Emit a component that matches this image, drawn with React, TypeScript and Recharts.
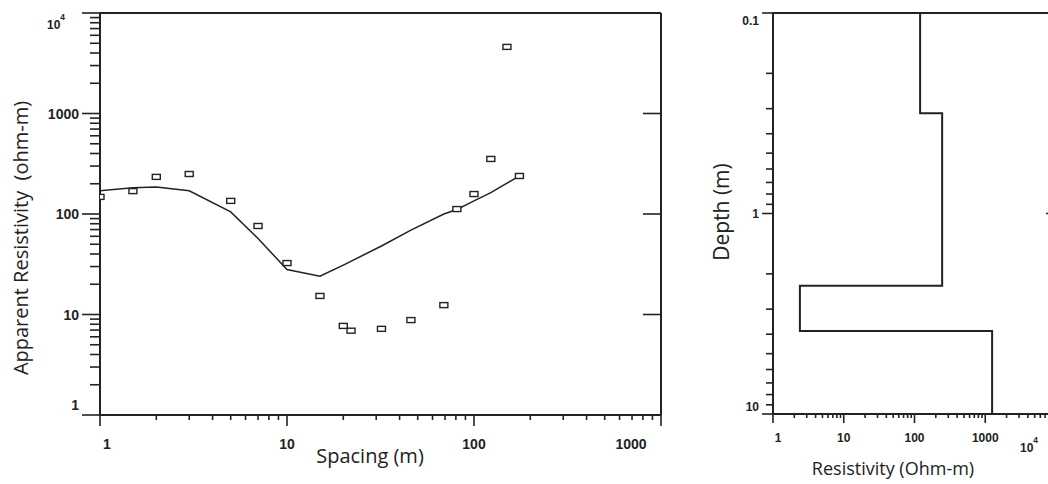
import React from 'react';
import { ComposedChart, Line, Scatter, XAxis, YAxis } from 'recharts';

// ---------- Left panel: apparent resistivity sounding curve ----------
const spacingObserved = [1, 1.5, 2, 3, 5, 7, 10, 15, 20, 22, 32, 46, 69, 81, 100, 123, 150, 175];
const rhoObserved = [148, 169, 234, 250, 135, 76, 32.5, 15.3, 7.7, 6.9, 7.2, 8.8, 12.4, 112, 158, 353, 4600, 239];
const spacingModel = [1, 1.5, 2, 3, 5, 7, 10, 15, 20, 32, 46, 69, 81, 100, 123, 175];
const rhoModel = [170, 182, 186, 170, 105, 57, 28, 24, 31, 48, 69, 100, 111, 135, 163, 240];

// ---------- Right panel: layered resistivity model ----------
const layerResistivity = [120, 246, 2.4, 1250];
const layerTopDepth = [0.1, 0.316, 2.29, 3.85];
const layerBottomDepth = [0.316, 2.29, 3.85, 10];

// ---------- Tick values / labels ----------
const spacingTickValues = [1, 10, 100, 1000];
const spacingTickLabels = ['1', '10', '100', '1000'];
const rhoTickValues = [1, 10, 100, 1000, 10000];
const rhoTickLabels = ['1', '10', '100', '1000', '10^4'];
const resTickValues = [1, 10, 100, 1000, 10000];
const resTickLabels = ['1', '10', '100', '1000', '10^4'];
const depthTickValues = [0.1, 1, 10];
const depthTickLabels = ['0.1', '1', '10'];

const observedData = spacingObserved.map((x, i) => ({ x, y: rhoObserved[i] }));
const modelData = spacingModel.map((x, i) => ({ x, y: rhoModel[i] }));
const stepData: { res: number; depth: number }[] = [];
layerResistivity.forEach((r, i) => {
  stepData.push({ res: r, depth: layerTopDepth[i] });
  stepData.push({ res: r, depth: layerBottomDepth[i] });
});

const withMinor = (majors: number[]) => {
  const out: number[] = [];
  majors.forEach((m, i) => {
    out.push(m);
    if (i < majors.length - 1) {
      for (let k = 2; k <= 9; k++) out.push(+(m * k).toPrecision(6));
    }
  });
  return out;
};

const INK = '#222';
const TICK_FONT = '"Liberation Sans", Arial, sans-serif';
const TITLE_FONT = '"Open Sans", "Noto Sans", sans-serif';

const Lbl = ({ text, x, y, anchor, size }: any) => {
  const [base, exp] = String(text).split('^');
  return (
    <text x={x} y={y} textAnchor={anchor} fontSize={size} fontWeight="bold" fontFamily={TICK_FONT} fill={INK}>
      {base}
      {exp ? (
        <tspan dy={-size * 0.75} fontSize={size * 0.7}>
          {exp}
        </tspan>
      ) : null}
    </text>
  );
};

// ----- left panel ticks -----
const LeftRhoTick = (props: any) => {
  const { x, y, payload } = props;
  const v = payload.value;
  const i = rhoTickValues.indexOf(v);
  const major = i >= 0;
  let label = null;
  if (major) {
    if (v === 10000) label = <Lbl text={rhoTickLabels[i]} x={x - 35} y={y + 16} anchor="end" size={12} />;
    else label = <Lbl text={rhoTickLabels[i]} x={x - 21} y={y + 5 + (v === 1 ? -10 : 0)} anchor="end" size={14} />;
  }
  return (
    <g>
      <line x1={x - (major ? 18 : 10)} x2={x} y1={y} y2={y} stroke={INK} strokeWidth={1.6} />
      {label}
    </g>
  );
};

const spacingLabelDx: Record<string, number> = { '1': 7, '1000': -30 };
const BottomSpacingTick = (props: any) => {
  const { x, y, payload } = props;
  const v = payload.value;
  const i = spacingTickValues.indexOf(v);
  const major = i >= 0;
  return (
    <g>
      <line x1={x} x2={x} y1={y} y2={y + (major ? 11 : 5)} stroke={INK} strokeWidth={1.6} />
      {major ? (
        <Lbl text={spacingTickLabels[i]} x={x + (spacingLabelDx[spacingTickLabels[i]] || 0)} y={y + 34} anchor="middle" size={14} />
      ) : null}
    </g>
  );
};

const InwardDownTick = (len: number) => (props: any) => {
  const { x, y } = props;
  return <line x1={x} x2={x} y1={y} y2={y + len} stroke={INK} strokeWidth={1.6} />;
};
const InwardLeftTick = (len: number) => (props: any) => {
  const { x, y } = props;
  return <line x1={x - len} x2={x} y1={y} y2={y} stroke={INK} strokeWidth={1.6} />;
};

// ----- right panel ticks -----
const depthLabelDy: Record<string, number> = { '0.1': 8, '10': -7 };
const LeftDepthTick = (props: any) => {
  const { x, y, payload } = props;
  const v = payload.value;
  const i = depthTickValues.indexOf(v);
  const major = i >= 0;
  return (
    <g>
      <line x1={x - (major ? 11 : 7)} x2={x} y1={y} y2={y} stroke={INK} strokeWidth={1.6} />
      {major ? (
        <Lbl text={depthTickLabels[i]} x={x - 14} y={y + 4 + (depthLabelDy[depthTickLabels[i]] || 0)} anchor="end" size={12} />
      ) : null}
    </g>
  );
};

const BottomResTick = (props: any) => {
  const { x, y, payload } = props;
  const v = payload.value;
  const i = resTickValues.indexOf(v);
  const major = i >= 0;
  let label = null;
  if (major) {
    if (v === 10000) label = <Lbl text={resTickLabels[i]} x={x - 36} y={y + 38} anchor="start" size={12} />;
    else label = <Lbl text={resTickLabels[i]} x={x + (v === 1 ? 5 : 0)} y={y + 28} anchor="middle" size={12} />;
  }
  return (
    <g>
      <line x1={x} x2={x} y1={y} y2={y + (major ? 9 : 4)} stroke={INK} strokeWidth={1.6} />
      {label}
    </g>
  );
};

const axisLine = { stroke: INK, strokeWidth: 2 };

const Box = (p: any) => (
  <rect x={p.cx - 4} y={p.cy - 2.5} width={8} height={5} fill="#fff" stroke={INK} strokeWidth={1.4} />
);

export default function App() {
  return (
    <div style={{ position: 'absolute', left: 0, top: 0, width: 1048, height: 484, overflow: 'hidden', background: '#fff' }}>
      <div style={{ position: 'absolute', left: 0, top: 0 }}>
        <ComposedChart width={700} height={484} margin={{ top: 3, left: 40, right: 19, bottom: 29 }}>
          <XAxis
            dataKey="x"
            type="number"
            scale="log"
            domain={[1, 1000]}
            allowDataOverflow
            ticks={withMinor(spacingTickValues)}
            interval={0}
            tickSize={0}
            tickMargin={0}
            tickLine={false}
            axisLine={axisLine}
            height={40}
            tick={BottomSpacingTick}
            label={() => (
              <text x={370} y={463} textAnchor="middle" fontSize={20} fontFamily={TITLE_FONT} fill={INK}>
                Spacing (m)
              </text>
            )}
          />
          <XAxis
            xAxisId="top"
            orientation="top"
            type="number"
            scale="log"
            domain={[1, 1000]}
            allowDataOverflow
            ticks={[10, 100]}
            interval={0}
            tickSize={0}
            tickMargin={0}
            tickLine={false}
            axisLine={axisLine}
            height={10}
            tick={InwardDownTick(11)}
          />
          <YAxis
            dataKey="y"
            type="number"
            scale="log"
            domain={[1, 10000]}
            allowDataOverflow
            ticks={withMinor(rhoTickValues)}
            interval={0}
            tickSize={0}
            tickMargin={0}
            tickLine={false}
            axisLine={axisLine}
            width={60}
            tick={LeftRhoTick}
            label={() => (
              <text
                x={28}
                y={238}
                transform="rotate(-90 28 238)"
                textAnchor="middle"
                fontSize={20}
                fontFamily={TITLE_FONT}
                fill={INK}
                style={{ whiteSpace: 'pre' }}
              >
                {'Apparent Resistivity  (ohm-m)'}
              </text>
            )}
          />
          <YAxis
            yAxisId="r"
            orientation="right"
            type="number"
            scale="log"
            domain={[1, 10000]}
            allowDataOverflow
            ticks={[10, 100, 1000]}
            interval={0}
            tickSize={0}
            tickMargin={0}
            tickLine={false}
            axisLine={axisLine}
            width={20}
            tick={InwardLeftTick(18)}
          />
          <Line data={modelData} dataKey="y" type="linear" dot={false} stroke={INK} strokeWidth={1.5} isAnimationActive={false} />
          <Scatter data={observedData} dataKey="y" shape={Box} isAnimationActive={false} />
        </ComposedChart>
      </div>
      <div style={{ position: 'absolute', left: 690, top: 0 }}>
        <ComposedChart width={420} height={484} margin={{ top: 3, left: 23, right: 34, bottom: 30 }}>
          <XAxis
            dataKey="res"
            type="number"
            scale="log"
            domain={[1, 10000]}
            allowDataOverflow
            ticks={withMinor(resTickValues)}
            interval={0}
            tickSize={0}
            tickMargin={0}
            tickLine={false}
            axisLine={axisLine}
            height={40}
            tick={BottomResTick}
            label={() => (
              <text x={203} y={475} textAnchor="middle" fontSize={18} fontFamily={TITLE_FONT} fill={INK}>
                Resistivity (Ohm-m)
              </text>
            )}
          />
          <XAxis
            xAxisId="top"
            orientation="top"
            type="number"
            scale="log"
            domain={[1, 10000]}
            allowDataOverflow
            ticks={[10, 100, 1000]}
            interval={0}
            tickSize={0}
            tickMargin={0}
            tickLine={false}
            axisLine={axisLine}
            height={10}
            tick={InwardDownTick(9)}
          />
          <YAxis
            type="number"
            scale="log"
            reversed
            domain={[0.1, 10]}
            allowDataOverflow
            ticks={withMinor(depthTickValues)}
            interval={0}
            tickSize={0}
            tickMargin={0}
            tickLine={false}
            axisLine={axisLine}
            width={60}
            tick={LeftDepthTick}
            label={() => (
              <text
                x={39}
                y={212}
                transform="rotate(-90 39 212)"
                textAnchor="middle"
                fontSize={21}
                fontFamily={TITLE_FONT}
                fill={INK}
              >
                Depth (m)
              </text>
            )}
          />
          <YAxis
            yAxisId="r"
            orientation="right"
            type="number"
            scale="log"
            reversed
            domain={[0.1, 10]}
            allowDataOverflow
            ticks={[1]}
            interval={0}
            tickSize={0}
            tickMargin={0}
            tickLine={false}
            axisLine={axisLine}
            width={20}
            tick={InwardLeftTick(10)}
          />
          <Line data={stepData} dataKey="depth" type="linear" dot={false} stroke={INK} strokeWidth={2} isAnimationActive={false} />
        </ComposedChart>
      </div>
    </div>
  );
}
